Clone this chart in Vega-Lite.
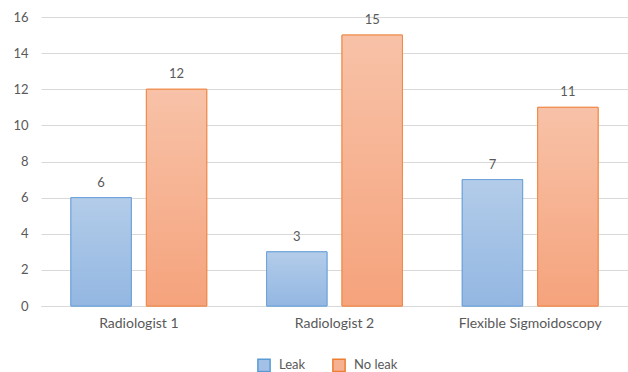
{
  "$schema": "https://vega.github.io/schema/vega-lite/v6.json",
  "width": 587,
  "height": 289,
  "autosize": "none",
  "padding": {"left": 41, "top": 17, "right": 0, "bottom": 66},
  "background": "white",
  "config": {
    "view": {"stroke": null},
    "font": "Lato",
    "axis": {"labelFont": "Lato", "labelFontSize": 13, "labelColor": "#595959"},
    "legend": {"labelFont": "Lato", "labelFontSize": 13, "labelColor": "#595959"}
  },
  "data": {
    "values": [
      {"group": "Radiologist 1", "series": "Leak", "value": 6},
      {"group": "Radiologist 1", "series": "No leak", "value": 12},
      {"group": "Radiologist 2", "series": "Leak", "value": 3},
      {"group": "Radiologist 2", "series": "No leak", "value": 15},
      {"group": "Flexible Sigmoidoscopy", "series": "Leak", "value": 7},
      {"group": "Flexible Sigmoidoscopy", "series": "No leak", "value": 11}
    ]
  },
  "encoding": {
    "x": {
      "field": "group",
      "type": "nominal",
      "sort": null,
      "scale": {"paddingInner": 0.306, "paddingOuter": 0.153},
      "axis": {"title": null, "labelAngle": 0, "labelFontSize": 14, "domain": true, "domainColor": "#d9d9d9", "ticks": false, "labelPadding": 10, "grid": false}
    },
    "xOffset": {"field": "series", "type": "nominal", "scale": {"paddingInner": 0.2, "paddingOuter": 0}},
    "y": {
      "field": "value",
      "type": "quantitative",
      "scale": {"domain": [0, 16], "nice": false},
      "axis": {"title": null, "values": [0, 2, 4, 6, 8, 10, 12, 14, 16], "domain": false, "ticks": false, "labelPadding": 13, "gridColor": "#d9d9d9", "gridWidth": 1}
    }
  },
  "layer": [
    {
      "mark": {"type": "bar", "strokeWidth": 1},
      "encoding": {
        "color": {
          "field": "series",
          "type": "nominal",
          "scale": {"domain": ["Leak", "No leak"], "range": ["#a3c1e6", "#f6b192"]},
          "legend": {"title": null, "orient": "none", "legendX": 216, "legendY": 341, "direction": "horizontal", "symbolType": "square", "symbolSize": 150, "symbolStrokeWidth": 1.5, "columnPadding": 23, "labelOffset": 8}
        },
        "stroke": {
          "field": "series",
          "type": "nominal",
          "scale": {"domain": ["Leak", "No leak"], "range": ["#5b9bd5", "#ed7d31"]},
          "legend": null
        }
      }
    },
    {
      "transform": [{"filter": "datum.series === 'Leak'"}],
      "mark": {
        "type": "bar",
        "stroke": "#6fa3da",
        "strokeWidth": 1,
        "fill": {"gradient": "linear", "x1": 0, "y1": 0, "x2": 0, "y2": 1, "stops": [{"offset": 0, "color": "#b3cce9"}, {"offset": 1, "color": "#93b7e2"}]}
      },
      "encoding": {}
    },
    {
      "transform": [{"filter": "datum.series === 'No leak'"}],
      "mark": {
        "type": "bar",
        "stroke": "#ef8a4a",
        "strokeWidth": 1,
        "fill": {"gradient": "linear", "x1": 0, "y1": 0, "x2": 0, "y2": 1, "stops": [{"offset": 0, "color": "#f8c2a8"}, {"offset": 1, "color": "#f5a37c"}]}
      },
      "encoding": {}
    },
    {
      "mark": {"type": "text", "baseline": "bottom", "dy": -8, "fontSize": 13, "color": "#595959", "font": "Lato"},
      "encoding": {"text": {"field": "value", "type": "quantitative"}}
    }
  ]
}
